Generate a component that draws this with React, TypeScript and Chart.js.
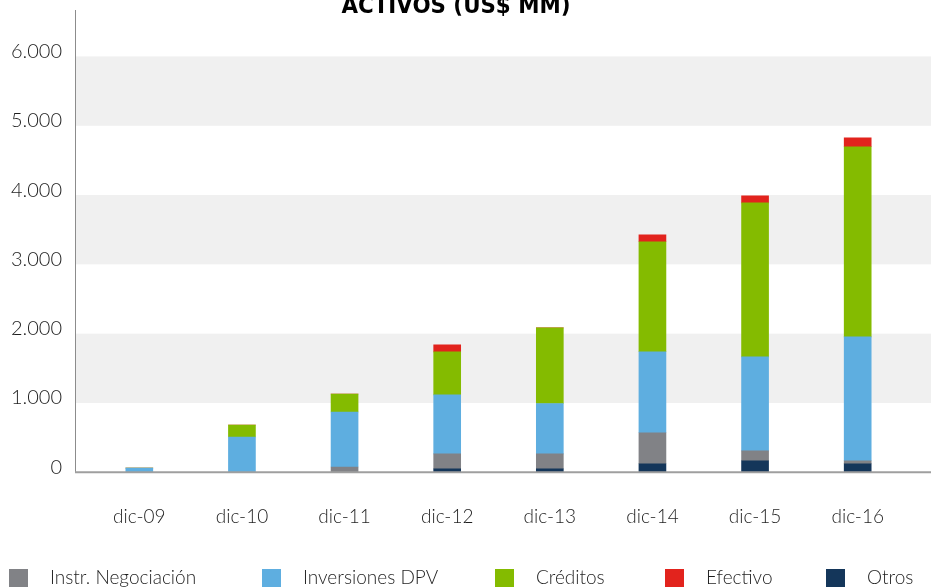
import React, { useEffect, useRef } from 'react';
import { Chart, registerables } from 'chart.js';

Chart.register(...registerables);

// ---- data ----
const categories = ['dic-09', 'dic-10', 'dic-11', 'dic-12', 'dic-13', 'dic-14', 'dic-15', 'dic-16'];
const otros = [0, 0, 0, 50, 50, 123, 166, 123];
const instrNegociacion = [0, 0, 76, 216, 216, 447, 144, 43];
const inversionesDPV = [62, 509, 794, 851, 726, 1169, 1356, 1789];
const creditos = [0, 173, 260, 620, 1092, 1587, 2222, 2742];
const efectivo = [0, 0, 0, 101, 0, 101, 101, 130];
const yTickValues = [0, 1000, 2000, 3000, 4000, 5000, 6000];
const titleText = 'ACTIVOS (US$ MM)';
const legendOrder = ['Instr. Negociación', 'Inversiones DPV', 'Créditos', 'Efectivo', 'Otros'];

// ---- style ----
const W = 931;
const H = 587;
const AXIS_X = 75;
const FONT = 'Lato, "Open Sans", "Noto Sans", sans-serif';
const COLORS: Record<string, string> = {
  'Otros': '#14365a',
  'Instr. Negociación': '#818286',
  'Inversiones DPV': '#5eaee0',
  'Créditos': '#84bb00',
  'Efectivo': '#e2231d',
};
const LEGEND_SQUARE_X = [9, 262, 495, 665, 826];

const fmt = (v: number) => String(v).replace(/\B(?=(\d{3})+(?!\d))/g, '.');

const bandsPlugin = {
  id: 'bands',
  beforeDatasetsDraw(chart: any) {
    const { ctx, scales } = chart;
    const y = scales.y;
    ctx.save();
    ctx.fillStyle = '#f0f0f0';
    for (let i = 1; i + 1 < yTickValues.length; i += 2) {
      const top = y.getPixelForValue(yTickValues[i + 1]);
      const bot = y.getPixelForValue(yTickValues[i]);
      ctx.fillRect(AXIS_X, top, W - AXIS_X, bot - top);
    }
    ctx.restore();
  },
  afterDatasetsDraw(chart: any) {
    const { ctx, scales, chartArea } = chart;
    const y0 = scales.y.getPixelForValue(0);
    ctx.save();
    ctx.strokeStyle = '#8c8c8c';
    ctx.lineWidth = 1;
    ctx.beginPath();
    ctx.moveTo(AXIS_X + 0.5, chartArea.top);
    ctx.lineTo(AXIS_X + 0.5, y0);
    ctx.stroke();
    ctx.strokeStyle = '#9f9f9f';
    ctx.lineWidth = 2;
    ctx.beginPath();
    ctx.moveTo(AXIS_X, y0);
    ctx.lineTo(W, y0);
    ctx.stroke();
    ctx.restore();
  },
  afterDraw(chart: any) {
    const { ctx } = chart;
    ctx.save();
    // title
    const tf = (s: number) => `bold ${s}px "Liberation Sans Narrow", "DejaVu Sans Condensed", "Liberation Sans", sans-serif`;
    ctx.font = tf(30);
    const w30 = ctx.measureText(titleText).width;
    const size = 30 * 229 / w30;
    ctx.font = tf(size);
    ctx.fillStyle = '#000';
    ctx.textAlign = 'center';
    ctx.textBaseline = 'alphabetic';
    ctx.fillText(titleText, 456, 13);
    // legend
    ctx.font = `300 19px ${FONT}`;
    ctx.textAlign = 'left';
    ctx.textBaseline = 'alphabetic';
    legendOrder.forEach((label, i) => {
      const x = LEGEND_SQUARE_X[i];
      ctx.fillStyle = COLORS[label];
      ctx.fillRect(x, 569, 19, 18);
      ctx.fillStyle = '#1e1e1e';
      ctx.fillText(label, x + 41, 584);
    });
    ctx.restore();
  },
};

export default function App() {
  const ref = useRef<HTMLCanvasElement | null>(null);
  useEffect(() => {
    document.body.style.margin = '0';
    const mk = (label: string, data: number[]) => ({
      label,
      data,
      backgroundColor: COLORS[label],
      borderWidth: 0,
      barThickness: 27,
      stack: 's',
    });
    const chart = new Chart(ref.current!, {
      type: 'bar',
      data: {
        labels: categories,
        datasets: [
          mk('Otros', otros),
          mk('Instr. Negociación', instrNegociacion),
          mk('Inversiones DPV', inversionesDPV),
          mk('Créditos', creditos),
          mk('Efectivo', efectivo),
        ],
      },
      options: {
        animation: false,
        responsive: false,
        devicePixelRatio: 1,
        layout: { padding: { top: 10, bottom: 54.7, left: 0, right: 22 } },
        plugins: {
          legend: { display: false },
          title: { display: false },
          tooltip: { enabled: false },
        },
        scales: {
          x: {
            stacked: true,
            grid: { display: false },
            border: { display: false },
            ticks: {
              font: { family: FONT, size: 19, weight: '300' as any },
              color: '#1e1e1e',
              padding: 25,
              maxRotation: 0,
            },
            afterFit: (s: any) => { s.height = 60; s.paddingLeft = 0; s.paddingRight = 0; },
          },
          y: {
            stacked: true,
            min: 0,
            max: 6670,
            grid: { display: false },
            border: { display: false },
            ticks: {
              stepSize: 1000,
              font: { family: FONT, size: 20, weight: '300' as any },
              color: '#1e1e1e',
              padding: 18,
              labelOffset: -5,
              callback: (v: any) => fmt(Number(v)),
            },
            afterBuildTicks: (s: any) => {
              s.ticks = yTickValues.map((v) => ({ value: v }));
            },
            afterFit: (s: any) => { s.width = 88; s.paddingTop = 0; s.paddingBottom = 0; },
          },
        },
      },
      plugins: [bandsPlugin],
    });
    return () => chart.destroy();
  }, []);
  return (
    <div style={{ position: 'fixed', left: 0, top: 0, width: W, height: H, background: '#fff' }}>
      <canvas ref={ref} width={W} height={H} style={{ width: W, height: H, display: 'block' }} />
    </div>
  );
}
